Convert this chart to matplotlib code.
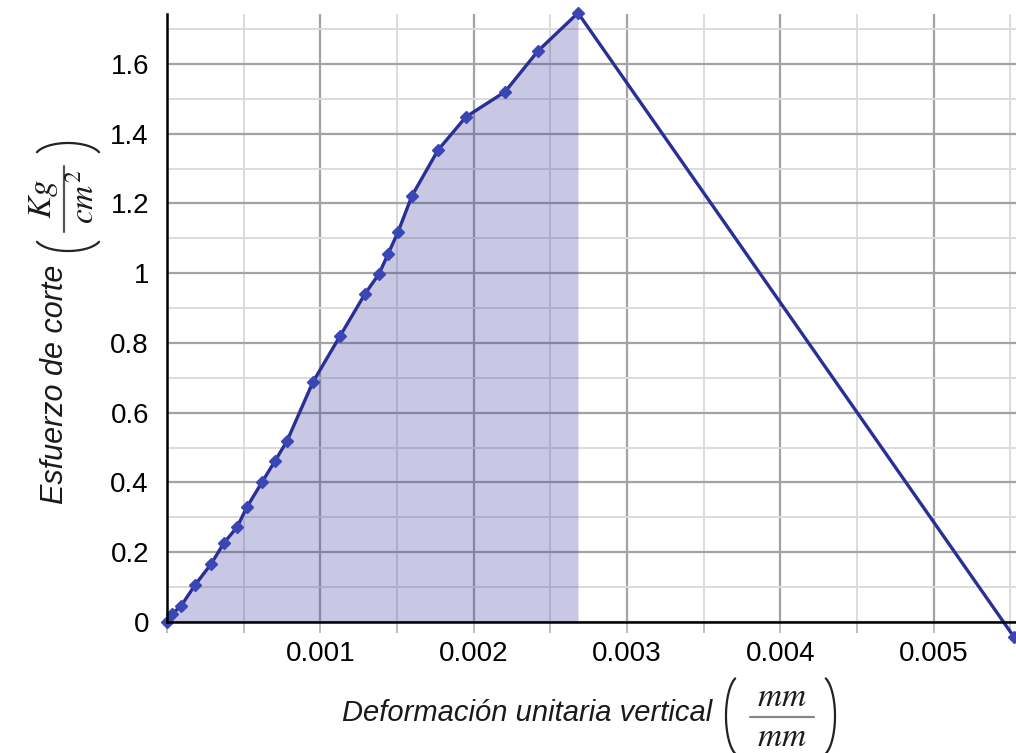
import numpy as np
import matplotlib.pyplot as plt
from matplotlib.ticker import MultipleLocator, FuncFormatter
from matplotlib.lines import Line2D

plt.rcParams['font.family'] = ['Liberation Sans', 'DejaVu Sans']
plt.rcParams['mathtext.fontset'] = 'stix'

# deformación unitaria vertical (mm/mm) y esfuerzo de corte (Kg/cm2)
deformacion = [0.0, 0.0000326, 0.0000913, 0.000183, 0.000287, 0.000372, 0.000457,
               0.000522, 0.000620, 0.000705, 0.000783, 0.000952, 0.001129, 0.001292,
               0.001383, 0.001442, 0.001507, 0.001598, 0.001768, 0.001950, 0.002205,
               0.002420, 0.002681, 0.005525]
esfuerzo = [0.0, 0.023, 0.046, 0.106, 0.166, 0.227, 0.272,
            0.330, 0.401, 0.462, 0.519, 0.688, 0.820, 0.941,
            0.998, 1.055, 1.118, 1.222, 1.353, 1.448, 1.520,
            1.637, 1.746, -0.043]

x = np.array(deformacion)
y = np.array(esfuerzo)
ipico = int(np.argmax(y))

W, H = 1016, 753
fig = plt.figure(figsize=(W / 100, H / 100), dpi=100)
ax = fig.add_axes([167 / W, 131 / H, 849 / W, 608 / H])

# area bajo la curva hasta el esfuerzo maximo
ax.fill_between(x[:ipico + 1], y[:ipico + 1], 0, color='#3b3ba0', alpha=0.28,
                linewidth=0, zorder=3)
ax.plot(x, y, color='#2a2f96', lw=2.4, marker='D', ms=6.5,
        mfc='#3a46b4', mec='#3a46b4', zorder=4, clip_on=False)

ax.set_xlim(0, 849 / 153300)
ax.set_ylim(0, 1.743)

ax.xaxis.set_major_locator(MultipleLocator(0.001))
ax.xaxis.set_minor_locator(MultipleLocator(0.0005))
ax.yaxis.set_major_locator(MultipleLocator(0.2))
ax.yaxis.set_minor_locator(MultipleLocator(0.1))
ax.xaxis.set_major_formatter(FuncFormatter(lambda v, p: '' if abs(v) < 1e-9 else '%g' % round(v, 4)))
ax.yaxis.set_major_formatter(FuncFormatter(lambda v, p: '%g' % round(v, 2)))

ax.grid(which='major', color='#a3a3a3', lw=1.6, zorder=1)
ax.grid(which='minor', color='#dcdcdc', lw=1.4, zorder=1)
ax.set_axisbelow(True)

for s in ['top', 'right']:
    ax.spines[s].set_visible(False)
for s in ['left', 'bottom']:
    ax.spines[s].set_linewidth(1.8)
    ax.spines[s].set_zorder(5)

ax.tick_params(axis='x', which='both', length=8, color='#bdbdbd', width=1.4,
               labelsize=20, pad=6)
ax.tick_params(axis='y', which='both', length=0, labelsize=20, pad=13)


# posiciones en pixeles (origen arriba a la izquierda)
def px(xp, yp):
    return xp / W, 1 - yp / H


def linea(xs, ys, color='#222222', lw=1.6):
    xs = np.asarray(xs, dtype=float) / W
    ys = 1 - np.asarray(ys, dtype=float) / H
    fig.add_artist(Line2D(xs, ys, transform=fig.transFigure, color=color, lw=lw,
                          solid_capstyle='round'))


def parentesis(cx, cy, a, b, t1, t2):
    # arco de elipse en pixeles
    t = np.radians(np.linspace(t1, t2, 40))
    linea(cx + a * np.cos(t), cy - b * np.sin(t))


# etiqueta del eje x
fig.text(*px(527, 713), 'Deformación unitaria vertical', fontsize=21,
         fontstyle='italic', ha='center', va='center', color='#1a1a1a')
fig.text(*px(782, 697), r'$mm$', fontsize=24, ha='center', va='center', color='#1a1a1a')
fig.text(*px(782, 737), r'$mm$', fontsize=24, ha='center', va='center', color='#1a1a1a')
linea([750, 814], [717, 717], color='#888888')
parentesis(740, 716, 14, 40, 110, 250)
parentesis(821, 716, 14, 40, -70, 70)

# etiqueta del eje y
fig.text(*px(55, 384), 'Esfuerzo de corte', fontsize=22, rotation=90,
         fontstyle='italic', ha='center', va='center', color='#1a1a1a')
fig.text(*px(43, 199), r'$Kg$', fontsize=24, rotation=90, ha='center', va='center',
         color='#1a1a1a')
fig.text(*px(84, 197), r'$cm^2$', fontsize=24, rotation=90, ha='center', va='center',
         color='#1a1a1a')
linea([64, 64], [166, 232], color='#555555')
parentesis(68, 237, 33, 14, 200, 340)
parentesis(68, 157, 33, 14, 20, 160)

fig.savefig('out.png', dpi=100)
